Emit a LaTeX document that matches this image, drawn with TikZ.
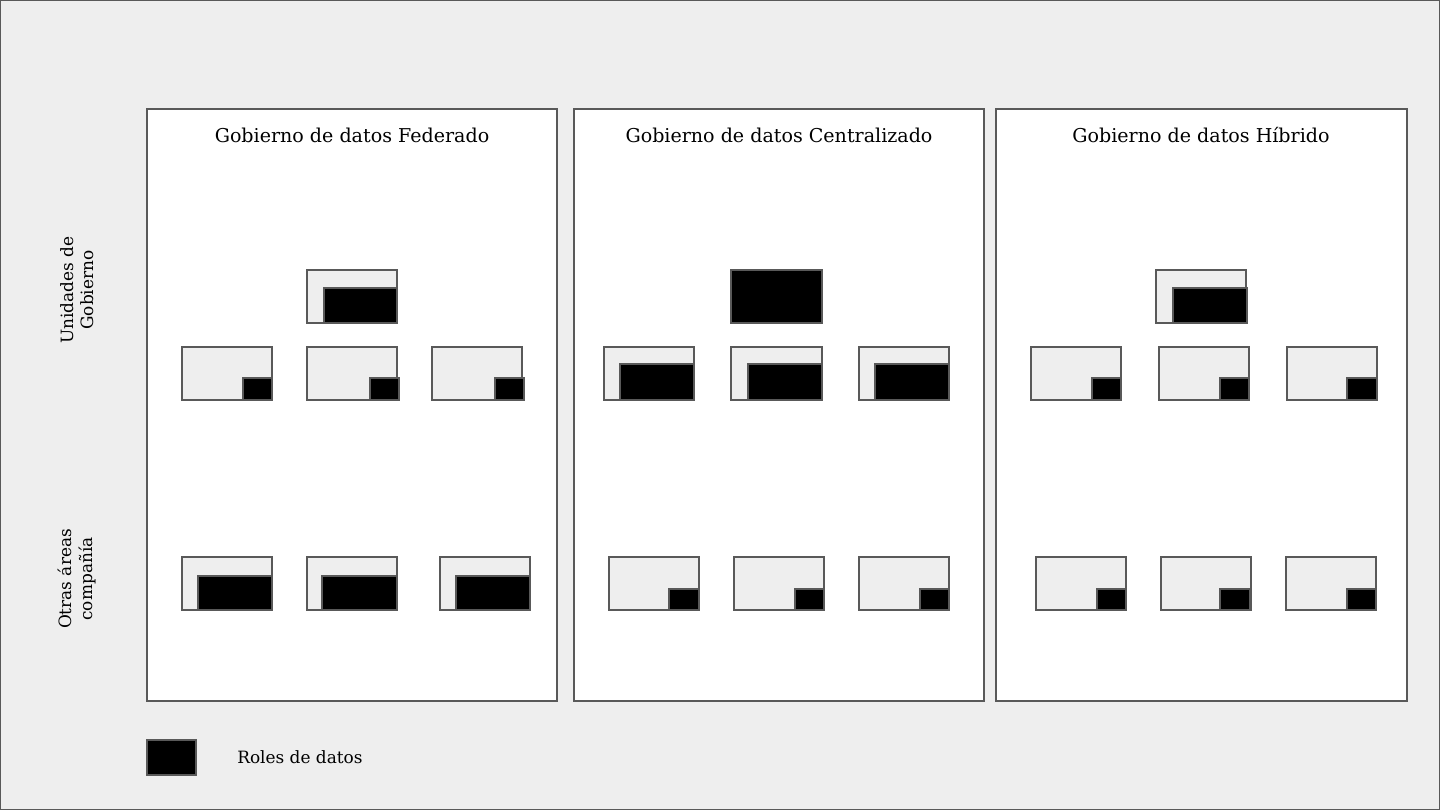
\documentclass[tikz,border=0pt]{standalone}
\usepackage{fontspec}
\setmainfont{DejaVu Serif}
\definecolor{bg}{HTML}{EEEEEE}
\definecolor{edge}{HTML}{595959}
\begin{document}
\begin{tikzpicture}[x=0.75pt,y=-0.75pt,
  panel/.style={draw=edge,fill=white,line width=1.5pt},
  unit/.style={draw=edge,fill=bg,line width=1.5pt},
  role/.style={draw=edge,fill=black,line width=1.5pt},
  txt/.style={font=\fontsize{14.3}{17}\selectfont,inner sep=0pt,text=black},
  small/.style={font=\fontsize{12.7}{15.2}\selectfont,inner sep=0pt,text=black},
  side/.style={small,rotate=90,align=center}]
\useasboundingbox (0,0) rectangle (1440,810);
\fill[bg,draw=edge,line width=1pt] (0,0) rectangle (1440,810);
% panels
\draw[panel] (147,109) rectangle (557,701);
\draw[panel] (574,109) rectangle (984,701);
\draw[panel] (996,109) rectangle (1407,701);
\node[txt] (t1) at (352,135) {Gobierno de datos Federado};
\node[txt] (t2) at (779,135) {Gobierno de datos Centralizado};
\node[txt] (t3) at (1201,135) {Gobierno de datos Híbrido};
% side labels
\node[side] (s1) at (77,290) {Unidades de\\Gobierno};
\node[side] (s2) at (77,579) {Otras áreas\\compañía};
% Federado
\draw[unit] (307,270) rectangle (397,323);
\draw[role] (324,288) rectangle (397,323);
\draw[unit] (182,347) rectangle (272,400);
\draw[role] (243,378) rectangle (272,400);
\draw[unit] (307,347) rectangle (397,400);
\draw[role] (370,378) rectangle (399,400);
\draw[unit] (432,347) rectangle (522,400);
\draw[role] (495,378) rectangle (524,400);
\draw[unit] (182,557) rectangle (272,610);
\draw[role] (198,576) rectangle (272,610);
\draw[unit] (307,557) rectangle (397,610);
\draw[role] (322,576) rectangle (397,610);
\draw[unit] (440,557) rectangle (530,610);
\draw[role] (456,576) rectangle (530,610);
% Centralizado
\draw[role] (731,270) rectangle (822,323);
\draw[unit] (604,347) rectangle (694,400);
\draw[role] (620,364) rectangle (694,400);
\draw[unit] (731,347) rectangle (822,400);
\draw[role] (748,364) rectangle (822,400);
\draw[unit] (859,347) rectangle (949,400);
\draw[role] (875,364) rectangle (949,400);
\draw[unit] (609,557) rectangle (699,610);
\draw[role] (669,589) rectangle (699,610);
\draw[unit] (734,557) rectangle (824,610);
\draw[role] (795,589) rectangle (824,610);
\draw[unit] (859,557) rectangle (949,610);
\draw[role] (920,589) rectangle (949,610);
% Hibrido
\draw[unit] (1156,270) rectangle (1246,323);
\draw[role] (1173,288) rectangle (1247,323);
\draw[unit] (1031,347) rectangle (1121,400);
\draw[role] (1092,378) rectangle (1121,400);
\draw[unit] (1159,347) rectangle (1249,400);
\draw[role] (1220,378) rectangle (1249,400);
\draw[unit] (1287,347) rectangle (1377,400);
\draw[role] (1347,378) rectangle (1377,400);
\draw[unit] (1036,557) rectangle (1126,610);
\draw[role] (1097,589) rectangle (1126,610);
\draw[unit] (1161,557) rectangle (1251,610);
\draw[role] (1220,589) rectangle (1250,610);
\draw[unit] (1286,557) rectangle (1376,610);
\draw[role] (1347,589) rectangle (1376,610);
% legend
\draw[role] (147,740) rectangle (196,775);
\node[small,anchor=west] (leg) at (237,757) {Roles de datos};
\end{tikzpicture}
\end{document}
